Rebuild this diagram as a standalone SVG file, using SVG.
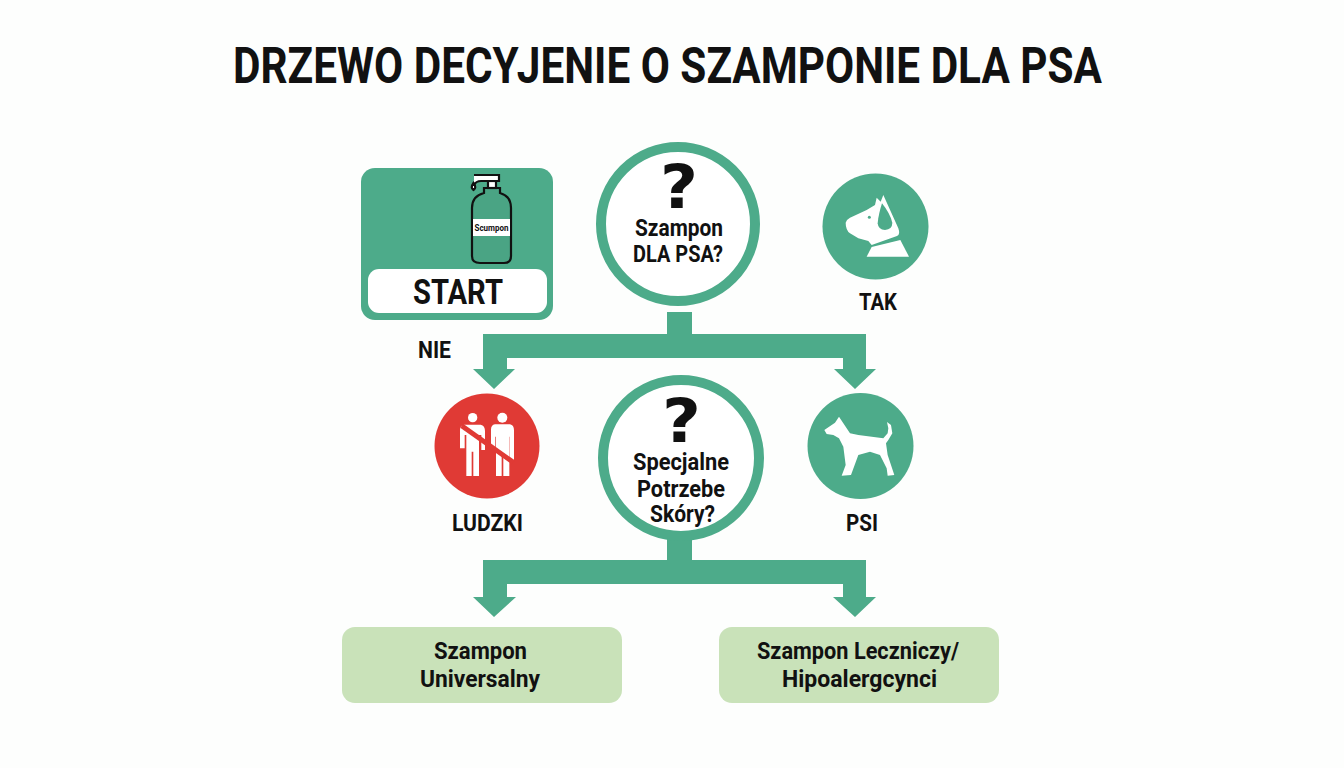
<svg xmlns="http://www.w3.org/2000/svg" width="1344" height="768" viewBox="0 0 1344 768">
<style>
text{font-family:Roboto,"Liberation Sans",sans-serif;font-weight:700;fill:#111;text-anchor:middle}
.g{fill:#4dab8a}.w{fill:#fff}.ring{fill:#fff;stroke:#4dab8a;stroke-width:10}.leaf{fill:#c9e2b9}.l{font-size:24px}.b{font-size:24px}.q{font-size:61px;font-family:"DejaVu Sans","Liberation Sans",sans-serif}
</style>
<rect width="1344" height="768" fill="#fdfefd"/>
<text id="title" x="667.5" y="83" font-size="50" font-weight="900" textLength="869" lengthAdjust="spacingAndGlyphs">DRZEWO DECYJENIE O SZAMPONIE DLA PSA</text>
<g id="connectors" class="g">
<path d="M667 312H692V334H866V369H876L855 389L834 369H843V358H507V369H515L494 389L473 369H483V334H667Z"/>
<path d="M667 538H692V560H866V597H876L855 617L833 597H843V584H507V597H516L494 617L473 597H483V560H667Z"/>
</g>
<g id="start">
<rect class="g" x="361" y="168" width="192" height="152" rx="14"/>
<rect class="w" x="368" y="269" width="179" height="44" rx="11"/>
<text x="458" y="304" font-size="35" textLength="90" lengthAdjust="spacingAndGlyphs">START</text>
<g id="bottle" fill="none" stroke="#111" stroke-width="2.200">
<path d="M484 193V188H500V193Q511 196 511 208V256Q511 263 504 263H480Q472 263 472 256V208Q472 196 484 193Z" fill="#4aa484"/>
<rect x="488" y="181" width="8" height="7" fill="#fff"/>
<path d="M474 175H499V181H481Q476 181 474 185" fill="#fff"/>
<path d="M473.500 183q-3.500 5 0 7q3.500-2 0-7Z" fill="#fff"/>
<rect x="473" y="219" width="37" height="17" fill="#fff" stroke="none"/>
</g>
<text x="491.500" y="230.500" font-size="9.500" textLength="34" lengthAdjust="spacingAndGlyphs">Scumpon</text>
</g>
<g id="q1">
<circle class="ring" cx="678" cy="224" r="77"/>
<text class="q" x="679" y="208" textLength="38" lengthAdjust="spacingAndGlyphs">?</text>
<text class="b" x="679" y="236" textLength="88" lengthAdjust="spacingAndGlyphs">Szampon</text>
<text class="b" x="678" y="262" textLength="90" lengthAdjust="spacingAndGlyphs">DLA PSA?</text>
</g>
<g id="tak">
<circle class="g" cx="875.500" cy="226.500" r="53"/>
<g transform="translate(835 185) scale(.3333)">
<path class="w" d="M32 113Q35 103 45 98L95 75L120 60L125 38L137 50L145 30L190 130Q197 150 186 153L110 180L100 168L70 160L45 145Q32 135 32 113Z"/>
<path class="g" d="M141 55Q130 90 128 115Q130 135 150 135Q172 133 172 113Q165 85 141 55Z"/>
<circle class="g" cx="103" cy="97" r="4.500"/>
<path class="w" d="M110 186L196 165L222 215H95Z"/>
</g>
<text class="l" x="878" y="310" textLength="38" lengthAdjust="spacingAndGlyphs">TAK</text>
</g>
<g id="nie"><text class="l" x="434.500" y="358" textLength="33" lengthAdjust="spacingAndGlyphs">NIE</text></g>
<g id="ludzki">
<circle cx="487" cy="446" r="52.500" fill="#e03a35"/>
<g transform="translate(450 405) scale(.3333)">
<g class="w">
<circle cx="68" cy="38" r="14"/><circle cx="157" cy="38" r="15"/>
<path d="M42 59H92Q105 62 105 78V135H94V90H87V213H70V140H65V213H49V90H44V130H30V74Q30 62 42 59Z"/>
<path d="M135 58H180Q192 60 192 76V165H179V95H178V213H160V150H155V213H138V95H136V130H123V74Q123 60 135 58Z"/>
</g>
<path d="M35 62L190 172" stroke="#e03a35" stroke-width="15" fill="none"/>
</g>
<text class="l" x="487.500" y="531" textLength="71" lengthAdjust="spacingAndGlyphs">LUDZKI</text>
</g>
<g id="q2">
<circle class="ring" cx="681" cy="458" r="78"/>
<text class="q" x="681.500" y="442" textLength="39" lengthAdjust="spacingAndGlyphs">?</text>
<text class="b" x="681" y="470" textLength="96" lengthAdjust="spacingAndGlyphs">Specjalne</text>
<text class="b" x="681" y="497" textLength="88" lengthAdjust="spacingAndGlyphs">Potrzebe</text>
<text class="b" x="682.500" y="522" textLength="65" lengthAdjust="spacingAndGlyphs">Skóry?</text>
</g>
<g id="psi">
<circle class="g" cx="860.500" cy="446" r="53"/>
<path class="w" transform="translate(815 410) scale(.3333)" d="M28 60L60 38L72 20L85 40L105 70L130 75L205 85L218 70L220 55L216 36L228 45L232 70L220 90L213 100L218 135L238 195L218 197L215 175L195 135L165 125L130 135L108 195L80 197L92 165L85 110L72 85L55 75L35 72Z"/>
<text class="l" x="862" y="531" textLength="32" lengthAdjust="spacingAndGlyphs">PSI</text>
</g>
<g id="universal">
<rect class="leaf" x="342" y="627" width="280" height="76" rx="13"/>
<text class="b" x="480.500" y="659" textLength="93" lengthAdjust="spacingAndGlyphs">Szampon</text>
<text class="b" x="480" y="687" textLength="120" lengthAdjust="spacingAndGlyphs">Universalny</text>
</g>
<g id="leczniczy">
<rect class="leaf" x="719" y="627" width="280" height="76" rx="13"/>
<text class="b" x="858" y="659" textLength="202" lengthAdjust="spacingAndGlyphs">Szampon Leczniczy/</text>
<text class="b" x="859.500" y="687" textLength="155" lengthAdjust="spacingAndGlyphs">Hipoalergcynci</text>
</g>
</svg>
